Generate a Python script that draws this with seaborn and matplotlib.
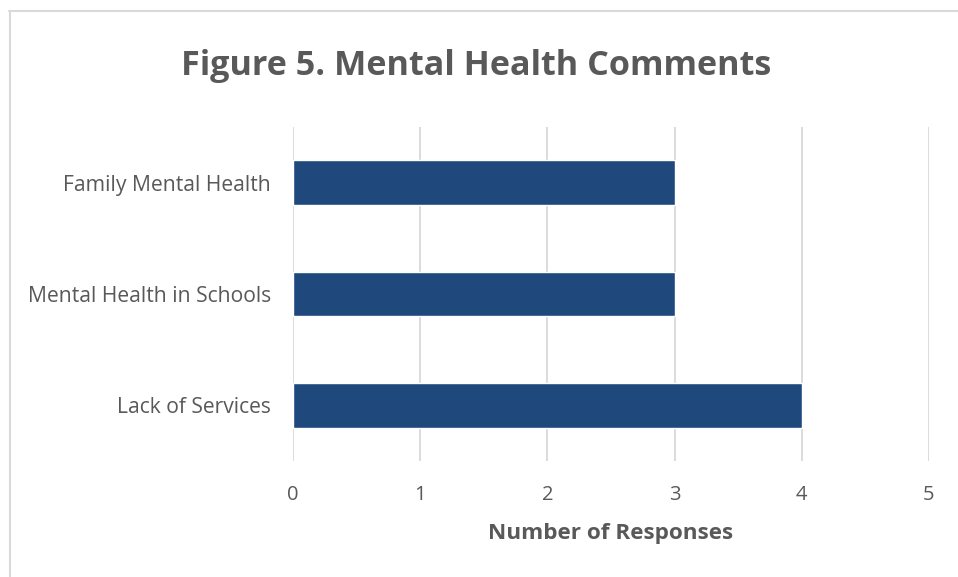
import matplotlib
matplotlib.use("Agg")
import matplotlib.pyplot as plt
import seaborn as sns
import pandas as pd
from matplotlib.lines import Line2D

categories = ["Family Mental Health", "Mental Health in Schools", "Lack of Services"]
responses = [3, 3, 4]
x_ticks = [0, 1, 2, 3, 4, 5]

sns.set_theme(style="white")
plt.rcParams["font.family"] = ["Open Sans", "DejaVu Sans"]

df = pd.DataFrame({"category": categories, "responses": responses})

fig = plt.figure(figsize=(9.58, 5.77), dpi=100)
ax = fig.add_axes([293 / 958, 1 - 461 / 577, (929 - 293) / 958, (461 - 127) / 577])

sns.barplot(data=df, x="responses", y="category", orient="h", color="#1F497D",
            width=0.4, saturation=1, ax=ax, zorder=3)

text_color = "#595959"
ax.set_xlim(0, 5)
ax.set_ylim(2.5, -0.5)
ax.set_xticks(x_ticks)
ax.set_xticklabels([str(t) for t in x_ticks])
ax.xaxis.grid(True, color="#D9D9D9", linewidth=1.3, zorder=0)
ax.yaxis.grid(False)
for s in ax.spines.values():
    s.set_visible(False)
ax.tick_params(axis="x", length=0, pad=17, labelsize=14.5, labelcolor=text_color)
ax.tick_params(axis="y", length=0, pad=16, labelsize=15.2, labelcolor=text_color)
ax.set_ylabel("")
ax.set_xlabel("Number of Responses", fontsize=16.2, fontweight="bold",
              color=text_color, labelpad=13)

fig.text(476 / 958, 1 - 66 / 577, "Figure 5. Mental Health Comments",
         ha="center", va="center", fontsize=24.6, fontweight="bold", color=text_color)

# chart frame
fig.add_artist(Line2D([9 / 958, 1], [1 - 10.5 / 577] * 2, transform=fig.transFigure,
                      color="#D9D9D9", linewidth=1.5))
fig.add_artist(Line2D([9.5 / 958] * 2, [0, 1 - 10.5 / 577], transform=fig.transFigure,
                      color="#D9D9D9", linewidth=1.5))

fig.savefig("out.png", dpi=100, facecolor="white")
